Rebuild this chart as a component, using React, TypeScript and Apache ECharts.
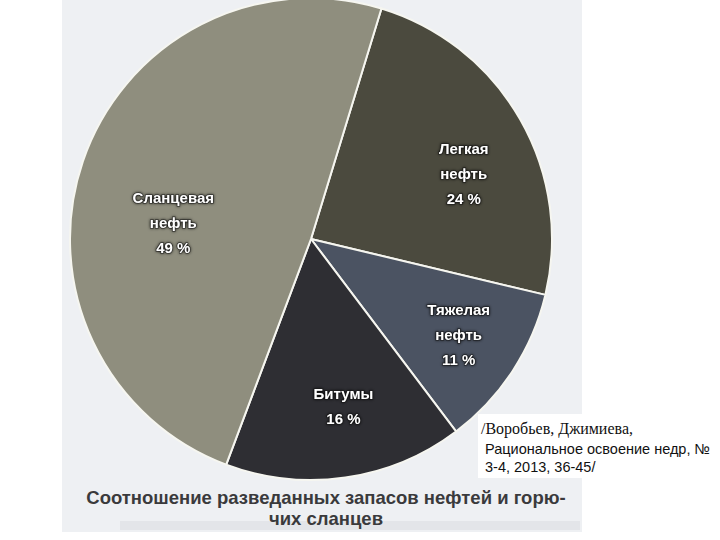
import React, { useEffect, useRef } from "react";
import * as echarts from "echarts";

// Data
const categories = ["Легкая нефть", "Тяжелая нефть", "Битумы", "Сланцевая нефть"];
const shares = [24, 11, 16, 49];
const labelTexts = ["Легкая\nнефть", "Тяжелая\nнефть", "Битумы", "Сланцевая\nнефть"];
const sliceColors = ["#4b4a3e", "#4b5362", "#2e2e33", "#8f8e7e"];

const titleLines = ["Соотношение разведанных запасов нефтей и горю-", "чих сланцев"];
const sourceLines = ["/Воробьев, Джимиева,", "Рациональное освоение недр, №", "3-4, 2013, 36-45/"];

// label nudges (layout only)
const labelNudge: Record<string, [number, number]> = {
  "Легкая нефть": [10, 16],
  "Тяжелая нефть": [10, 5],
  "Битумы": [9, 4],
  "Сланцевая нефть": [18, 37],
};

export default function App() {
  const ref = useRef<HTMLDivElement>(null);
  useEffect(() => {
    if (!ref.current) return;
    const chart = echarts.init(ref.current, null, { renderer: "svg" });
    const data = categories.map((name, i) => ({
      name,
      value: shares[i],
      itemStyle: { color: sliceColors[i] },
    }));
    const labelFont = "'Liberation Sans', Arial, sans-serif";
    const titleStyle = {
      fill: "#3a3a3c",
      font: "bold 18.5px 'Liberation Sans', Arial, sans-serif",
      textAlign: "center",
      textVerticalAlign: "middle",
    };
    chart.setOption({
      animation: false,
      backgroundColor: "#ffffff",
      graphic: [
        { type: "rect", z: -10, shape: { x: 62, y: 0, width: 520, height: 532 }, style: { fill: "#eef0f3" } },
        { type: "rect", z: -9, shape: { x: 120, y: 521, width: 460, height: 9 }, style: { fill: "#e3e5e9" } },
        { type: "rect", z: -8, shape: { x: 478, y: 414, width: 242, height: 64 }, style: { fill: "#ffffff" } },
        { type: "text", x: 326, y: 497, style: { ...titleStyle, text: titleLines[0] } },
        { type: "text", x: 326, y: 518, style: { ...titleStyle, text: titleLines[1] } },
        {
          type: "text",
          x: 481,
          y: 428,
          style: {
            text: sourceLines[0],
            fill: "#111",
            font: "16px 'Liberation Serif', 'Times New Roman', serif",
            textAlign: "left",
            textVerticalAlign: "middle",
          },
        },
        {
          type: "text",
          x: 485,
          y: 449,
          style: {
            text: sourceLines[1],
            fill: "#111",
            font: "14.5px 'Liberation Sans', Arial, sans-serif",
            textAlign: "left",
            textVerticalAlign: "middle",
          },
        },
        {
          type: "text",
          x: 485,
          y: 467,
          style: {
            text: sourceLines[2],
            fill: "#111",
            font: "14.5px 'Liberation Sans', Arial, sans-serif",
            textAlign: "left",
            textVerticalAlign: "middle",
          },
        },
      ],
      series: [
        {
          type: "pie",
          center: [311, 239],
          radius: [0, 241],
          startAngle: 73,
          clockwise: true,
          avoidLabelOverlap: false,
          silent: true,
          itemStyle: { borderColor: "#f6f6f0", borderWidth: 2 },
          label: { show: false },
          labelLine: { show: false },
          data,
        },
        {
          type: "pie",
          center: [311, 239],
          radius: [82, 241],
          startAngle: 73,
          clockwise: true,
          avoidLabelOverlap: false,
          silent: true,
          z: 5,
          itemStyle: { color: "rgba(0,0,0,0)", borderWidth: 0 },
          labelLine: { show: false },
          label: {
            show: true,
            position: "inside",
            color: "#ffffff",
            fontFamily: labelFont,
            fontWeight: "bold",
            fontSize: 15,
            lineHeight: 25,
            align: "center",
            textShadowColor: "rgba(0,0,0,0.9)",
            textShadowBlur: 3,
            textBorderColor: "rgba(20,20,20,0.6)",
            textBorderWidth: 1.5,
            formatter: (p: any) => `${labelTexts[p.dataIndex]}\n${p.value} %`,
          },
          labelLayout: (p: any) => {
            const n = labelNudge[categories[p.dataIndex]];
            return n ? { dx: n[0], dy: n[1] } : {};
          },
          data: categories.map((name, i) => ({ name, value: shares[i] })),
        },
      ],
    });
    return () => chart.dispose();
  }, []);
  return (
    <div
      ref={ref}
      style={{ position: "fixed", left: 0, top: 0, width: 720, height: 540 }}
    />
  );
}
